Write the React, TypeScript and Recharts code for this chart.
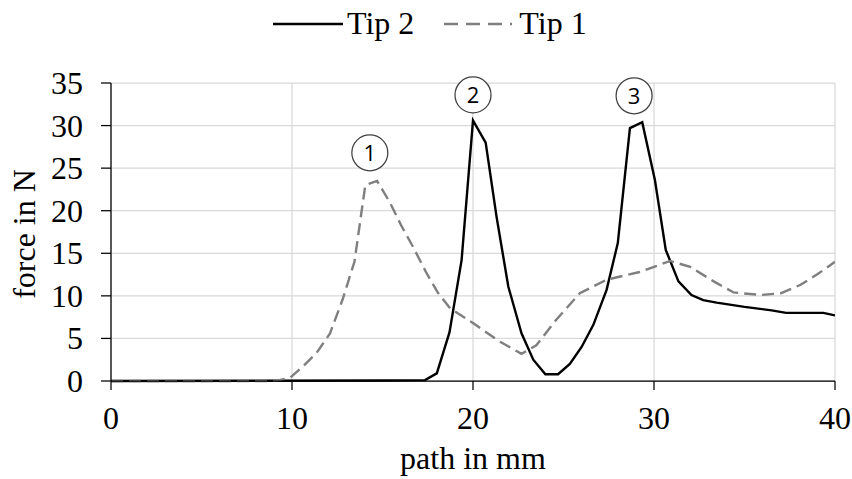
import React from "react";
import {
  LineChart, Line, XAxis, YAxis, CartesianGrid, Legend, ReferenceDot,
} from "recharts";

const SERIF = "'Liberation Serif', 'Times New Roman', serif";
const SANS = "'Open Sans', 'Noto Sans', sans-serif";
const GRAY = "#7f7f7f";
const FONT = 32;

// Tip 2 (solid black)
const tip2X = [0, 15.0, 17.35, 18.0, 18.7, 19.37, 20.0, 20.7, 21.3, 21.95, 22.68, 23.33, 24.0, 24.7, 25.35, 26.0, 26.65, 27.38, 28.0, 28.67, 29.35, 30.05, 30.65, 31.35, 32.07, 32.72, 33.46, 35.0, 36.5, 37.3, 39.36, 40.0];
const tip2Y = [0, 0.05, 0.1, 0.9, 5.7, 14.2, 30.6, 28.0, 19.3, 11.1, 5.6, 2.5, 0.8, 0.8, 2.0, 4.0, 6.6, 10.7, 16.2, 29.7, 30.4, 23.6, 15.4, 11.7, 10.1, 9.5, 9.2, 8.7, 8.3, 8.0, 8.0, 7.7];

// Tip 1 (dashed gray)
const tip1X = [0, 8.8, 9.3, 9.9, 10.6, 11.36, 12.1, 12.8, 13.45, 14.05, 14.7, 15.4, 16.05, 16.7, 17.4, 18.05, 18.75, 20.0, 21.5, 22.68, 23.5, 24.6, 25.9, 27.38, 29.2, 30.9, 32.0, 33.3, 34.4, 35.9, 37.0, 38.1, 39.0, 40.0];
const tip1Y = [0, 0, 0.1, 0.4, 1.7, 3.3, 5.6, 9.6, 14.0, 23.0, 23.5, 21.0, 18.2, 15.7, 12.8, 10.4, 8.5, 6.8, 4.6, 3.2, 4.2, 7.2, 10.3, 11.9, 12.8, 14.1, 13.4, 11.7, 10.4, 10.1, 10.3, 11.3, 12.5, 14.0];

const xTicks = [0, 10, 20, 30, 40];
const yTicks = [0, 5, 10, 15, 20, 25, 30, 35];

// numbered peak markers
const markerLabels = ["1", "2", "3"];
const markerX = [14.3, 20.0, 28.9];
const markerY = [26.8, 33.6, 33.5];

const tip2Data = tip2X.map((x, i) => ({ x, y: tip2Y[i] }));
const tip1Data = tip1X.map((x, i) => ({ x, y: tip1Y[i] }));

const tickStyle = { fill: "#000", fontSize: FONT, fontFamily: SERIF };

function YTick(props: any) {
  const { x, y, payload } = props;
  return (
    <text x={x} y={y} dy={11} textAnchor="end" fill="#000" fontSize={FONT} fontFamily={SERIF}>
      {payload.value}
    </text>
  );
}

function LegendBox() {
  return (
    <div style={{ display: "flex", alignItems: "flex-start", fontFamily: SERIF, fontSize: FONT, color: "#000", lineHeight: "36px" }}>
      <svg width={70} height={36} style={{ marginRight: 4 }}>
        <line x1={0} y1={19} x2={70} y2={19} stroke="#000" strokeWidth={2.5} />
      </svg>
      <span>Tip 2</span>
      <svg width={68} height={36} style={{ marginLeft: 30, marginRight: 7 }}>
        <line x1={0} y1={19} x2={68} y2={19} stroke={GRAY} strokeWidth={2.5} strokeDasharray="14 8" />
      </svg>
      <span>Tip 1</span>
    </div>
  );
}

function YLabel() {
  return (
    <text x={35} y={234} transform="rotate(-90, 35, 234)" textAnchor="middle"
      fontFamily={SERIF} fontSize={FONT} fill="#000">force in N</text>
  );
}

function XLabel() {
  return (
    <text x={473} y={469} textAnchor="middle" fontFamily={SERIF} fontSize={FONT} fill="#000">path in mm</text>
  );
}

export default function App() {
  return (
    <div style={{ position: "absolute", left: 0, top: 0, background: "#fff" }}>
      <LineChart width={852} height={479} margin={{ top: 83, right: 17, bottom: 0, left: 0 }}>
        <CartesianGrid stroke="#d9d9d9" strokeWidth={1.25} />
        <XAxis
          type="number" dataKey="x" domain={[0, 40]} ticks={xTicks} allowDataOverflow
          height={98} tickSize={9} tickMargin={16} tick={tickStyle}
          axisLine={{ stroke: "#000", strokeWidth: 1.25 }} tickLine={{ stroke: "#000", strokeWidth: 1.25 }}
          label={<XLabel />}
        />
        <YAxis
          type="number" domain={[0, 35]} ticks={yTicks} width={111}
          tickSize={10} tickMargin={18} tick={<YTick />}
          axisLine={{ stroke: "#000", strokeWidth: 1.25 }} tickLine={{ stroke: "#000", strokeWidth: 1.25 }}
          label={<YLabel />}
        />
        <Legend
          verticalAlign="middle" align="center" layout="horizontal"
          content={<LegendBox />}
          wrapperStyle={{ top: 5, left: 273, width: "auto", height: "auto" }}
        />
        <Line data={tip2Data} dataKey="y" name="Tip 2" type="linear" stroke="#000" strokeWidth={2.4}
          dot={false} activeDot={false} isAnimationActive={false} />
        <Line data={tip1Data} dataKey="y" name="Tip 1" type="linear" stroke={GRAY} strokeWidth={2.4}
          strokeDasharray="12 6" dot={false} activeDot={false} isAnimationActive={false} />
        {markerLabels.map((m, i) => (
          <ReferenceDot key={m} x={markerX[i]} y={markerY[i]} r={18} fill="#fff" stroke="#404040" strokeWidth={1.25}
            ifOverflow="visible"
            label={{ value: m, position: "center", fill: "#000", fontSize: 22, fontFamily: SANS }} />
        ))}
      </LineChart>
    </div>
  );
}
